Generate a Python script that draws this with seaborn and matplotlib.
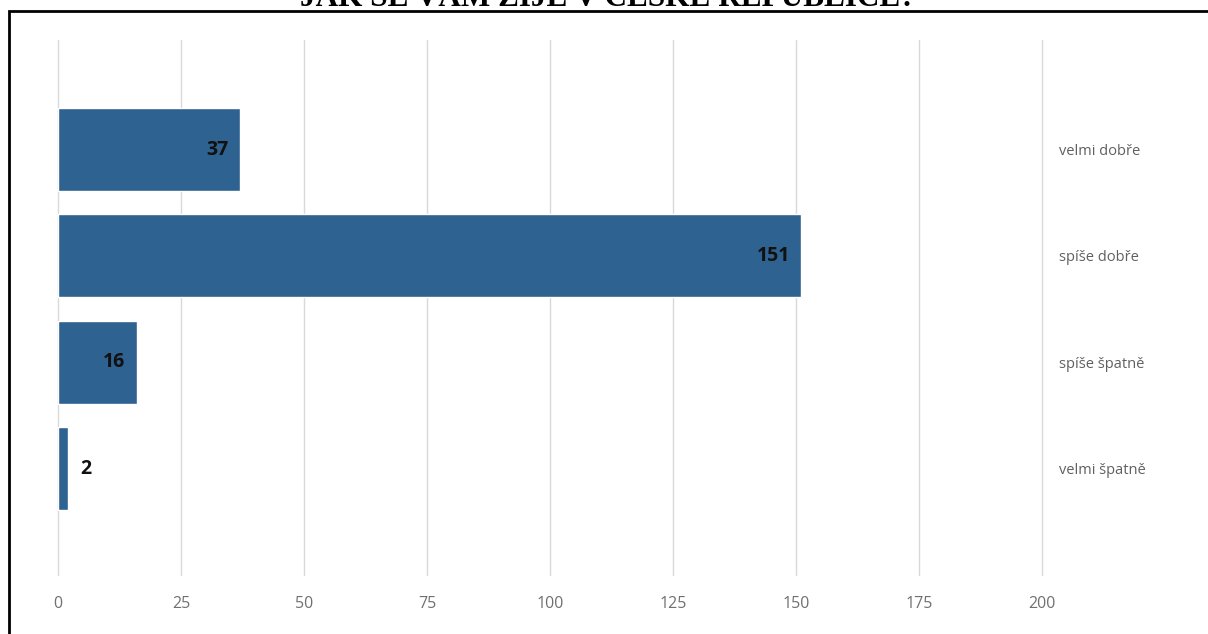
import matplotlib
matplotlib.use("Agg")
import matplotlib.pyplot as plt
from matplotlib.patches import Rectangle
import seaborn as sns
import pandas as pd

categories = ["velmi dobře", "spíše dobře", "spíše špatně", "velmi špatně"]
values = [37, 151, 16, 2]
x_ticks = [0, 25, 50, 75, 100, 125, 150, 175, 200]
title = "JAK SE VÁM ŽIJE V ČESKÉ REPUBLICE?"

sns.set_theme(style="white")
plt.rcParams["font.family"] = ["Open Sans", "DejaVu Sans"]

W, H = 1208, 634
fig = plt.figure(figsize=(W / 100, H / 100), dpi=100)
fig.patch.set_facecolor("white")
ax = fig.add_axes([58 / W, 1 - 575 / H, (1042 - 58) / W, (575 - 40) / H])

df = pd.DataFrame({"cat": categories, "val": values})
sns.barplot(data=df, x="val", y="cat", orient="h", color="#2E6291",
            saturation=1, width=0.78, ax=ax, zorder=3)

ax.set_xlim(0, 200)
ax.set_ylim(4.0, -1.03)
ax.set_xticks(x_ticks)
ax.set_xticklabels([str(t) for t in x_ticks])
ax.set_xlabel("")
ax.set_ylabel("")
ax.grid(axis="x", color="#d9d9d9", lw=1, zorder=0)
ax.grid(axis="y", visible=False)
for gl in ax.get_xgridlines():
    gl.set_clip_on(False)
for s in ax.spines.values():
    s.set_visible(False)
ax.yaxis.tick_right()
ax.tick_params(axis="x", length=0, pad=15, labelsize=11.5, labelcolor="#707070")
ax.tick_params(axis="y", length=0, pad=12, labelsize=10.5, labelcolor="#606060")
for lbl in ax.get_yticklabels():
    lbl.set_horizontalalignment("left")

for i, v in enumerate(values):
    if v >= 10:
        ax.annotate(str(v), (v, i), xytext=(-8, 0), textcoords="offset points",
                    ha="right", va="center", fontsize=14, fontweight="bold",
                    color="#111111", zorder=5)
    else:
        ax.annotate(str(v), (v, i), xytext=(9, 0), textcoords="offset points",
                    ha="left", va="center", fontsize=14, fontweight="bold",
                    color="#111111", zorder=5)

fig.add_artist(Rectangle((8.5 / W, -0.05), 1.2, (H - 11) / H + 0.05,
                         fill=False, lw=2, edgecolor="black",
                         transform=fig.transFigure))
fig.text(608 / W, 1 - 6 / H, title, ha="center", va="baseline",
         fontsize=22.5, fontweight="bold", family=["Liberation Serif", "DejaVu Serif"],
         color="black")

fig.savefig("out.png", dpi=100)
